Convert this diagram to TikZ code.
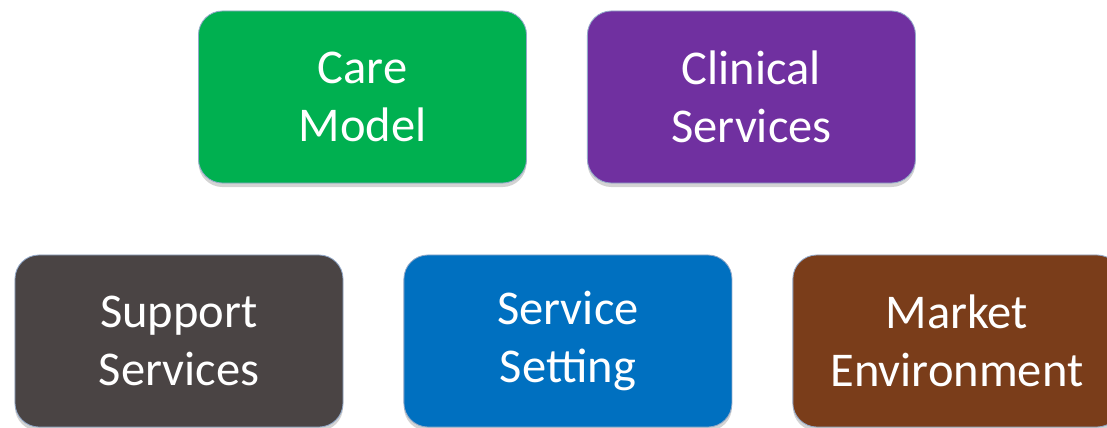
\documentclass[tikz,border=0pt]{standalone}
\usepackage{fontspec}
\setmainfont{Carlito}
\usepackage{tikz}
\usetikzlibrary{shapes,positioning,shadows}

\definecolor{caregreen}{HTML}{00B050}
\definecolor{clinpurple}{HTML}{7030A0}
\definecolor{suppgray}{HTML}{4A4444}
\definecolor{servblue}{HTML}{0070C0}
\definecolor{marketbrown}{HTML}{7A3D1A}
\definecolor{edgeblue}{HTML}{93A9C9}

\begin{document}
\begin{tikzpicture}[
    x=0.025cm, y=-0.025cm,
    node distance=1.825cm and 1.5cm,
    every node/.style={font=\fontsize{34.5}{41}\selectfont},
    block/.style={rectangle, rounded corners=0.6cm, draw=edgeblue, line width=0.6pt, text=white, minimum width=8.2cm, minimum height=4.3cm, align=center, drop shadow={shadow xshift=0pt, shadow yshift=-0.1cm, opacity=0.35}}
]
    \useasboundingbox (0,0) rectangle (1107,428);

    % Top row
    \node[block, fill=caregreen] (care) at (362.5,97) {Care\\Model};
    \node[block, fill=clinpurple, right=of care] (clinical) {Clinical\\Services};

    % Bottom row
    \node[block, fill=suppgray] (support) at (179,341) {Support\\Services};
    \node[block, fill=servblue, right=of support] (setting) {Service\\Setting};
    \node[block, fill=marketbrown, right=of setting] (market) {Market\\Environment};
\end{tikzpicture}
\end{document}
